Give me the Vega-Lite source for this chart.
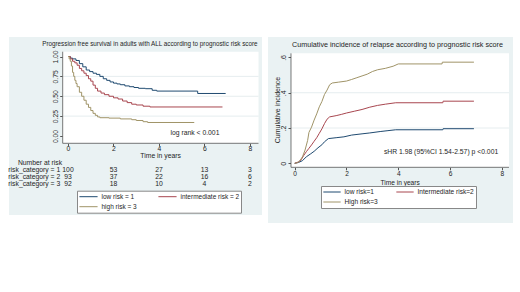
{
  "$schema": "https://vega.github.io/schema/vega-lite/v6.json",
  "background": "white",
  "padding": {"left": 8, "top": 37, "right": 0, "bottom": 0},
  "spacing": 6,
  "config": {
    "view": {"fill": "#EAF2F3", "stroke": null},
    "font": "Liberation Sans",
    "text": {"font": "Liberation Sans", "fontSize": 6.8, "color": "#1e1e1e"},
    "axis": {"labelFont": "Liberation Sans", "labelColor": "#1e1e1e", "tickColor": "#555555", "domain": false, "grid": false, "title": null, "zindex": 1}
  },
  "resolve": {"scale": {"x": "independent", "y": "independent", "color": "independent"}},
  "datasets": {
    "surv": [
      {"group": "low risk = 1", "t": 0, "s": 1.0},
      {"group": "low risk = 1", "t": 0.1, "s": 0.98},
      {"group": "low risk = 1", "t": 0.2, "s": 0.97},
      {"group": "low risk = 1", "t": 0.35, "s": 0.95},
      {"group": "low risk = 1", "t": 0.5, "s": 0.91},
      {"group": "low risk = 1", "t": 0.65, "s": 0.87},
      {"group": "low risk = 1", "t": 0.8, "s": 0.83},
      {"group": "low risk = 1", "t": 0.95, "s": 0.81},
      {"group": "low risk = 1", "t": 1.1, "s": 0.79},
      {"group": "low risk = 1", "t": 1.25, "s": 0.775},
      {"group": "low risk = 1", "t": 1.4, "s": 0.75},
      {"group": "low risk = 1", "t": 1.55, "s": 0.72},
      {"group": "low risk = 1", "t": 1.7, "s": 0.7},
      {"group": "low risk = 1", "t": 1.85, "s": 0.68},
      {"group": "low risk = 1", "t": 2.0, "s": 0.665},
      {"group": "low risk = 1", "t": 2.15, "s": 0.655},
      {"group": "low risk = 1", "t": 2.3, "s": 0.645},
      {"group": "low risk = 1", "t": 2.5, "s": 0.63},
      {"group": "low risk = 1", "t": 2.7, "s": 0.62},
      {"group": "low risk = 1", "t": 2.9, "s": 0.61},
      {"group": "low risk = 1", "t": 3.1, "s": 0.6},
      {"group": "low risk = 1", "t": 3.4, "s": 0.595},
      {"group": "low risk = 1", "t": 3.7, "s": 0.575},
      {"group": "low risk = 1", "t": 3.9, "s": 0.565},
      {"group": "low risk = 1", "t": 5.7, "s": 0.535},
      {"group": "low risk = 1", "t": 6.93, "s": 0.535},
      {"group": "intermediate risk = 2", "t": 0, "s": 1.0},
      {"group": "intermediate risk = 2", "t": 0.1, "s": 0.97},
      {"group": "intermediate risk = 2", "t": 0.2, "s": 0.94},
      {"group": "intermediate risk = 2", "t": 0.3, "s": 0.92},
      {"group": "intermediate risk = 2", "t": 0.4, "s": 0.89},
      {"group": "intermediate risk = 2", "t": 0.5, "s": 0.85},
      {"group": "intermediate risk = 2", "t": 0.6, "s": 0.82},
      {"group": "intermediate risk = 2", "t": 0.7, "s": 0.79},
      {"group": "intermediate risk = 2", "t": 0.8, "s": 0.76},
      {"group": "intermediate risk = 2", "t": 0.9, "s": 0.72},
      {"group": "intermediate risk = 2", "t": 1.0, "s": 0.69},
      {"group": "intermediate risk = 2", "t": 1.1, "s": 0.64},
      {"group": "intermediate risk = 2", "t": 1.2, "s": 0.6},
      {"group": "intermediate risk = 2", "t": 1.3, "s": 0.565},
      {"group": "intermediate risk = 2", "t": 1.45, "s": 0.54},
      {"group": "intermediate risk = 2", "t": 1.6, "s": 0.52},
      {"group": "intermediate risk = 2", "t": 1.8, "s": 0.5},
      {"group": "intermediate risk = 2", "t": 2.0, "s": 0.48},
      {"group": "intermediate risk = 2", "t": 2.2, "s": 0.465},
      {"group": "intermediate risk = 2", "t": 2.4, "s": 0.44},
      {"group": "intermediate risk = 2", "t": 2.6, "s": 0.42},
      {"group": "intermediate risk = 2", "t": 2.8, "s": 0.4},
      {"group": "intermediate risk = 2", "t": 3.0, "s": 0.39},
      {"group": "intermediate risk = 2", "t": 3.3, "s": 0.375},
      {"group": "intermediate risk = 2", "t": 3.6, "s": 0.365},
      {"group": "intermediate risk = 2", "t": 6.79, "s": 0.365},
      {"group": "high risk = 3", "t": 0, "s": 1.0},
      {"group": "high risk = 3", "t": 0.05, "s": 0.97},
      {"group": "high risk = 3", "t": 0.1, "s": 0.94},
      {"group": "high risk = 3", "t": 0.15, "s": 0.88},
      {"group": "high risk = 3", "t": 0.2, "s": 0.8},
      {"group": "high risk = 3", "t": 0.25, "s": 0.75},
      {"group": "high risk = 3", "t": 0.3, "s": 0.7},
      {"group": "high risk = 3", "t": 0.35, "s": 0.66},
      {"group": "high risk = 3", "t": 0.4, "s": 0.62},
      {"group": "high risk = 3", "t": 0.5, "s": 0.55},
      {"group": "high risk = 3", "t": 0.6, "s": 0.5},
      {"group": "high risk = 3", "t": 0.7, "s": 0.45},
      {"group": "high risk = 3", "t": 0.8, "s": 0.4},
      {"group": "high risk = 3", "t": 0.9, "s": 0.36},
      {"group": "high risk = 3", "t": 1.0, "s": 0.32},
      {"group": "high risk = 3", "t": 1.1, "s": 0.285},
      {"group": "high risk = 3", "t": 1.2, "s": 0.26},
      {"group": "high risk = 3", "t": 1.3, "s": 0.24},
      {"group": "high risk = 3", "t": 1.4, "s": 0.23},
      {"group": "high risk = 3", "t": 1.8, "s": 0.225},
      {"group": "high risk = 3", "t": 2.3, "s": 0.215},
      {"group": "high risk = 3", "t": 2.8, "s": 0.205},
      {"group": "high risk = 3", "t": 3.0, "s": 0.195},
      {"group": "high risk = 3", "t": 3.3, "s": 0.18},
      {"group": "high risk = 3", "t": 3.5, "s": 0.17},
      {"group": "high risk = 3", "t": 5.55, "s": 0.17}
    ],
    "risk": [
      {"cat": "risk_category = 1", "t": 0, "n": 100},
      {"cat": "risk_category = 1", "t": 2, "n": 53},
      {"cat": "risk_category = 1", "t": 4, "n": 27},
      {"cat": "risk_category = 1", "t": 6, "n": 13},
      {"cat": "risk_category = 1", "t": 8, "n": 3},
      {"cat": "risk_category = 2", "t": 0, "n": 93},
      {"cat": "risk_category = 2", "t": 2, "n": 37},
      {"cat": "risk_category = 2", "t": 4, "n": 22},
      {"cat": "risk_category = 2", "t": 6, "n": 16},
      {"cat": "risk_category = 2", "t": 8, "n": 6},
      {"cat": "risk_category = 3", "t": 0, "n": 92},
      {"cat": "risk_category = 3", "t": 2, "n": 18},
      {"cat": "risk_category = 3", "t": 4, "n": 10},
      {"cat": "risk_category = 3", "t": 6, "n": 4},
      {"cat": "risk_category = 3", "t": 8, "n": 2}
    ],
    "cif": [
      {"group": "low risk=1", "t": 0, "c": 0},
      {"group": "low risk=1", "t": 0.15, "c": 0.005},
      {"group": "low risk=1", "t": 0.3, "c": 0.015},
      {"group": "low risk=1", "t": 0.45, "c": 0.037},
      {"group": "low risk=1", "t": 0.6, "c": 0.052},
      {"group": "low risk=1", "t": 0.75, "c": 0.068},
      {"group": "low risk=1", "t": 0.9, "c": 0.088},
      {"group": "low risk=1", "t": 1.05, "c": 0.105},
      {"group": "low risk=1", "t": 1.15, "c": 0.122},
      {"group": "low risk=1", "t": 1.3, "c": 0.14},
      {"group": "low risk=1", "t": 1.6, "c": 0.145},
      {"group": "low risk=1", "t": 1.9, "c": 0.15},
      {"group": "low risk=1", "t": 2.2, "c": 0.16},
      {"group": "low risk=1", "t": 2.6, "c": 0.167},
      {"group": "low risk=1", "t": 2.9, "c": 0.172},
      {"group": "low risk=1", "t": 3.3, "c": 0.18},
      {"group": "low risk=1", "t": 3.6, "c": 0.185},
      {"group": "low risk=1", "t": 3.9, "c": 0.19},
      {"group": "low risk=1", "t": 5.72, "c": 0.19},
      {"group": "low risk=1", "t": 5.73, "c": 0.196},
      {"group": "low risk=1", "t": 6.92, "c": 0.196},
      {"group": "Intermediate risk=2", "t": 0, "c": 0},
      {"group": "Intermediate risk=2", "t": 0.15, "c": 0.008},
      {"group": "Intermediate risk=2", "t": 0.25, "c": 0.02},
      {"group": "Intermediate risk=2", "t": 0.35, "c": 0.045},
      {"group": "Intermediate risk=2", "t": 0.45, "c": 0.066},
      {"group": "Intermediate risk=2", "t": 0.55, "c": 0.085},
      {"group": "Intermediate risk=2", "t": 0.65, "c": 0.104},
      {"group": "Intermediate risk=2", "t": 0.75, "c": 0.125},
      {"group": "Intermediate risk=2", "t": 0.85, "c": 0.145},
      {"group": "Intermediate risk=2", "t": 0.95, "c": 0.17},
      {"group": "Intermediate risk=2", "t": 1.05, "c": 0.195},
      {"group": "Intermediate risk=2", "t": 1.15, "c": 0.225},
      {"group": "Intermediate risk=2", "t": 1.25, "c": 0.25},
      {"group": "Intermediate risk=2", "t": 1.35, "c": 0.263},
      {"group": "Intermediate risk=2", "t": 1.6, "c": 0.27},
      {"group": "Intermediate risk=2", "t": 1.8, "c": 0.277},
      {"group": "Intermediate risk=2", "t": 2.0, "c": 0.285},
      {"group": "Intermediate risk=2", "t": 2.3, "c": 0.295},
      {"group": "Intermediate risk=2", "t": 2.6, "c": 0.305},
      {"group": "Intermediate risk=2", "t": 2.9, "c": 0.318},
      {"group": "Intermediate risk=2", "t": 3.2, "c": 0.328},
      {"group": "Intermediate risk=2", "t": 3.5, "c": 0.335},
      {"group": "Intermediate risk=2", "t": 3.9, "c": 0.343},
      {"group": "Intermediate risk=2", "t": 5.72, "c": 0.343},
      {"group": "Intermediate risk=2", "t": 5.73, "c": 0.352},
      {"group": "Intermediate risk=2", "t": 6.92, "c": 0.352},
      {"group": "High risk=3", "t": 0, "c": 0},
      {"group": "High risk=3", "t": 0.1, "c": 0.003},
      {"group": "High risk=3", "t": 0.2, "c": 0.015},
      {"group": "High risk=3", "t": 0.3, "c": 0.037},
      {"group": "High risk=3", "t": 0.4, "c": 0.075},
      {"group": "High risk=3", "t": 0.5, "c": 0.13},
      {"group": "High risk=3", "t": 0.55, "c": 0.175},
      {"group": "High risk=3", "t": 0.65, "c": 0.205},
      {"group": "High risk=3", "t": 0.75, "c": 0.245},
      {"group": "High risk=3", "t": 0.85, "c": 0.28},
      {"group": "High risk=3", "t": 0.95, "c": 0.32},
      {"group": "High risk=3", "t": 1.05, "c": 0.35},
      {"group": "High risk=3", "t": 1.15, "c": 0.39},
      {"group": "High risk=3", "t": 1.25, "c": 0.415},
      {"group": "High risk=3", "t": 1.35, "c": 0.445},
      {"group": "High risk=3", "t": 1.45, "c": 0.455},
      {"group": "High risk=3", "t": 1.7, "c": 0.46},
      {"group": "High risk=3", "t": 2.0, "c": 0.466},
      {"group": "High risk=3", "t": 2.2, "c": 0.475},
      {"group": "High risk=3", "t": 2.4, "c": 0.485},
      {"group": "High risk=3", "t": 2.6, "c": 0.495},
      {"group": "High risk=3", "t": 2.8, "c": 0.505},
      {"group": "High risk=3", "t": 3.0, "c": 0.52},
      {"group": "High risk=3", "t": 3.2, "c": 0.53},
      {"group": "High risk=3", "t": 3.5, "c": 0.538},
      {"group": "High risk=3", "t": 3.8, "c": 0.55},
      {"group": "High risk=3", "t": 4.0, "c": 0.563},
      {"group": "High risk=3", "t": 5.69, "c": 0.563},
      {"group": "High risk=3", "t": 5.7, "c": 0.573},
      {"group": "High risk=3", "t": 6.92, "c": 0.573}
    ]
  },
  "hconcat": [
    {
      "width": 253,
      "height": 178,
      "layer": [
        {
          "data": {"values": [{}]},
          "mark": {"type": "rect", "color": "white"},
          "encoding": {
            "x": {"datum": -0.233, "type": "quantitative",
                  "scale": {"domain": [-2.5934, 8.5275], "nice": false, "zero": false},
                  "axis": {"values": [0, 2, 4, 6, 8], "orient": "bottom", "offset": -71.7, "tickSize": 2.5, "labelPadding": 0, "labelFontSize": 6.8}},
            "x2": {"datum": 8.374},
            "y": {"datum": 1.06, "type": "quantitative",
                  "scale": {"domain": [-0.9937, 1.2453], "nice": false, "zero": false},
                  "axis": {"values": [0, 0.25, 0.5, 0.75, 1], "format": ".2f", "orient": "left", "offset": -53.7, "tickSize": 3, "labelPadding": 1, "labelAngle": -90, "labelFontSize": 6.8}},
            "y2": {"datum": -0.0918}
          }
        },
        {
          "data": {"values": [{"g": 0.25}, {"g": 0.5}, {"g": 0.75}]},
          "mark": {"type": "rule", "color": "#e0e8eb", "strokeWidth": 0.8},
          "encoding": {
            "x": {"datum": -0.233, "type": "quantitative"},
            "x2": {"datum": 8.374},
            "y": {"field": "g", "type": "quantitative"}
          }
        },
        {
          "data": {"values": [{}]},
          "mark": {"type": "rule", "color": "#555555", "strokeWidth": 0.8},
          "encoding": {
            "x": {"datum": -0.233, "type": "quantitative"},
            "y": {"datum": -0.0918, "type": "quantitative"},
            "y2": {"datum": 1.06}
          }
        },
        {
          "data": {"values": [{}]},
          "mark": {"type": "rule", "color": "#555555", "strokeWidth": 0.8},
          "encoding": {
            "x": {"datum": -0.233, "type": "quantitative"},
            "x2": {"datum": 8.374},
            "y": {"datum": -0.0918, "type": "quantitative"}
          }
        },
        {
          "data": {"name": "surv"},
          "mark": {"type": "line", "interpolate": "step-after", "strokeWidth": 1},
          "encoding": {
            "x": {"field": "t", "type": "quantitative"},
            "y": {"field": "s", "type": "quantitative"},
            "color": {"field": "group", "type": "nominal",
              "scale": {"domain": ["low risk = 1", "intermediate risk = 2", "high risk = 3"], "range": ["#1f4a70", "#a8464f", "#a09468"]},
              "legend": {"orient": "none", "legendX": 68, "legendY": 153.7, "direction": "horizontal", "columns": 2, "title": null,
                "symbolType": "stroke", "symbolSize": 330, "symbolStrokeWidth": 1, "labelFontSize": 6.5, "labelFont": "Liberation Sans", "labelColor": "#1e1e1e",
                "fillColor": "white", "strokeColor": "#888888", "padding": 1.5, "clipHeight": 9, "rowPadding": 1, "columnPadding": 20, "labelOffset": 3}}
          }
        },
        {
          "data": {"values": [{}]},
          "mark": {"type": "text", "text": "Progression free survival in adults with ALL according to prognostic risk score", "fontSize": 6.3},
          "encoding": {"x": {"datum": 3.6, "type": "quantitative"}, "y": {"datum": 1.1635, "type": "quantitative"}}
        },
        {
          "data": {"values": [{}]},
          "mark": {"type": "text", "text": "log rank < 0.001"},
          "encoding": {"x": {"datum": 5.58, "type": "quantitative"}, "y": {"datum": 0.042, "type": "quantitative"}}
        },
        {
          "data": {"values": [{}]},
          "mark": {"type": "text", "text": "Time in years"},
          "encoding": {"x": {"datum": 4.07, "type": "quantitative"}, "y": {"datum": -0.2516, "type": "quantitative"}}
        },
        {
          "data": {"values": [{}]},
          "mark": {"type": "text", "text": "Number at risk"},
          "encoding": {"x": {"datum": -1.23, "type": "quantitative"}, "y": {"datum": -0.343, "type": "quantitative"}}
        },
        {
          "data": {"name": "risk"},
          "transform": [{"filter": "datum.cat == 'risk_category = 1'"}],
          "mark": {"type": "text"},
          "encoding": {"x": {"field": "t", "type": "quantitative"}, "y": {"datum": -0.428, "type": "quantitative"}, "text": {"field": "n"}}
        },
        {
          "data": {"name": "risk"},
          "transform": [{"filter": "datum.cat == 'risk_category = 2'"}],
          "mark": {"type": "text"},
          "encoding": {"x": {"field": "t", "type": "quantitative"}, "y": {"datum": -0.519, "type": "quantitative"}, "text": {"field": "n"}}
        },
        {
          "data": {"name": "risk"},
          "transform": [{"filter": "datum.cat == 'risk_category = 3'"}],
          "mark": {"type": "text"},
          "encoding": {"x": {"field": "t", "type": "quantitative"}, "y": {"datum": -0.607, "type": "quantitative"}, "text": {"field": "n"}}
        },
        {
          "data": {"values": [{"cat": "risk_category = 1"}]},
          "mark": {"type": "text", "align": "right"},
          "encoding": {"x": {"datum": -0.34, "type": "quantitative"}, "y": {"datum": -0.428, "type": "quantitative"}, "text": {"field": "cat"}}
        },
        {
          "data": {"values": [{"cat": "risk_category = 2"}]},
          "mark": {"type": "text", "align": "right"},
          "encoding": {"x": {"datum": -0.34, "type": "quantitative"}, "y": {"datum": -0.519, "type": "quantitative"}, "text": {"field": "cat"}}
        },
        {
          "data": {"values": [{"cat": "risk_category = 3"}]},
          "mark": {"type": "text", "align": "right"},
          "encoding": {"x": {"datum": -0.34, "type": "quantitative"}, "y": {"datum": -0.607, "type": "quantitative"}, "text": {"field": "cat"}}
        }
      ]
    },
    {
      "width": 245,
      "height": 186,
      "layer": [
        {
          "data": {"values": [{}]},
          "mark": {"type": "rect", "color": "white"},
          "encoding": {
            "x": {"datum": -0.143, "type": "quantitative",
                  "scale": {"domain": [-1.0309, 8.4286], "nice": false, "zero": false},
                  "axis": {"values": [0, 2, 4, 6, 8], "orient": "bottom", "offset": -55.7, "tickSize": 2.5, "labelPadding": 0.5, "labelFontSize": 6.6}},
            "x2": {"datum": 8.274},
            "y": {"datum": 0.623, "type": "quantitative",
                  "scale": {"domain": [-0.3382, 0.7156], "nice": false, "zero": false},
                  "axis": {"values": [0, 0.2, 0.4, 0.6], "labelExpr": "datum.value == 0 ? '0' : replace(format(datum.value, '.1f'), '0.', '.')", "orient": "left", "offset": -23, "tickSize": 3, "labelPadding": 1.5, "labelAngle": -90, "labelFontSize": 7}},
            "y2": {"datum": -0.0227}
          }
        },
        {
          "data": {"values": [{"g": 0.2}, {"g": 0.4}]},
          "mark": {"type": "rule", "color": "#e0e8eb", "strokeWidth": 0.8},
          "encoding": {
            "x": {"datum": -0.143, "type": "quantitative"},
            "x2": {"datum": 8.274},
            "y": {"field": "g", "type": "quantitative"}
          }
        },
        {
          "data": {"values": [{}]},
          "mark": {"type": "rule", "color": "#555555", "strokeWidth": 0.8},
          "encoding": {
            "x": {"datum": -0.143, "type": "quantitative"},
            "y": {"datum": -0.0227, "type": "quantitative"},
            "y2": {"datum": 0.623}
          }
        },
        {
          "data": {"values": [{}]},
          "mark": {"type": "rule", "color": "#555555", "strokeWidth": 0.8},
          "encoding": {
            "x": {"datum": -0.143, "type": "quantitative"},
            "x2": {"datum": 8.274},
            "y": {"datum": -0.0227, "type": "quantitative"}
          }
        },
        {
          "data": {"name": "cif"},
          "mark": {"type": "line", "interpolate": "linear", "strokeWidth": 1},
          "encoding": {
            "x": {"field": "t", "type": "quantitative"},
            "y": {"field": "c", "type": "quantitative"},
            "color": {"field": "group", "type": "nominal",
              "scale": {"domain": ["low risk=1", "Intermediate risk=2", "High risk=3"], "range": ["#1f4a70", "#a8464f", "#a09468"]},
              "legend": {"orient": "none", "legendX": 53, "legendY": 149, "direction": "horizontal", "columns": 2, "title": null,
                "symbolType": "stroke", "symbolSize": 300, "symbolStrokeWidth": 1, "labelFontSize": 6.6, "labelFont": "Liberation Sans", "labelColor": "#1e1e1e",
                "fillColor": "white", "strokeColor": "#888888", "padding": 1.5, "clipHeight": 9, "rowPadding": 1, "columnPadding": 17, "labelOffset": 3}}
          }
        },
        {
          "data": {"values": [{}]},
          "mark": {"type": "text", "text": "Cumulative incidence of relapse according to prognostic risk score", "fontSize": 7.2},
          "encoding": {"x": {"datum": 3.97, "type": "quantitative"}, "y": {"datum": 0.6686, "type": "quantitative"}}
        },
        {
          "data": {"values": [{}]},
          "mark": {"type": "text", "text": "sHR 1.98 (95%CI 1.54-2.57) p <0.001"},
          "encoding": {"x": {"datum": 5.65, "type": "quantitative"}, "y": {"datum": 0.064, "type": "quantitative"}}
        },
        {
          "data": {"values": [{}]},
          "mark": {"type": "text", "text": "Time in years", "fontSize": 6.6},
          "encoding": {"x": {"datum": 4.07, "type": "quantitative"}, "y": {"datum": -0.1088, "type": "quantitative"}}
        },
        {
          "data": {"values": [{}]},
          "mark": {"type": "text", "text": "Cumulative incidence", "fontSize": 7, "angle": 270},
          "encoding": {"x": {"datum": -0.656, "type": "quantitative"}, "y": {"datum": 0.302, "type": "quantitative"}}
        }
      ]
    }
  ]
}
